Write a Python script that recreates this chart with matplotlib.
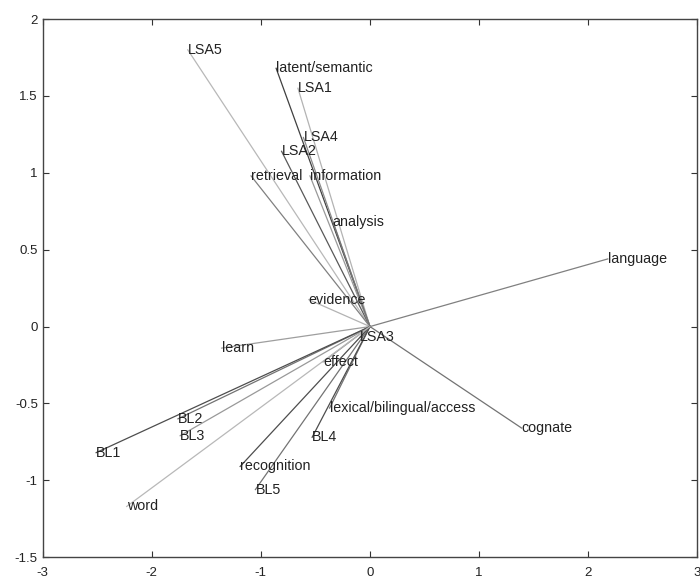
import matplotlib.pyplot as plt
import numpy as np

plt.rcParams['font.family'] = ['Liberation Sans', 'DejaVu Sans']
plt.rcParams['axes.unicode_minus'] = False

labels = ['LSA5', 'latent/semantic', 'LSA1', 'LSA4', 'LSA2', 'retrieval',
          'information', 'analysis', 'evidence', 'language', 'LSA3', 'effect',
          'lexical/bilingual/access', 'cognate', 'learn', 'BL2', 'BL3', 'BL1',
          'recognition', 'BL5', 'BL4', 'word']
xs = [-1.67, -0.86, -0.66, -0.61, -0.81, -1.09,
      -0.55, -0.34, -0.56, 2.18, -0.09, -0.43,
      -0.37, 1.39, -1.36, -1.76, -1.74, -2.51,
      -1.19, -1.05, -0.53, -2.23]
ys = [1.80, 1.68, 1.55, 1.23, 1.14, 0.98,
      0.98, 0.68, 0.175, 0.44, -0.07, -0.23,
      -0.53, -0.66, -0.14, -0.60, -0.71, -0.82,
      -0.91, -1.06, -0.72, -1.17]
# grey level of each line
greys = [0.72, 0.25, 0.7, 0.55, 0.35, 0.5,
         0.6, 0.45, 0.7, 0.5, 0.4, 0.55,
         0.45, 0.45, 0.62, 0.45, 0.6, 0.3,
         0.3, 0.45, 0.3, 0.72]

fig = plt.figure(figsize=(7, 5.78), dpi=100)
ax = fig.add_axes([0.061, 0.036, 0.935, 0.931])

for x, y, g, lab in zip(xs, ys, greys, labels):
    ax.plot([0, x], [0, y], color=str(g), linewidth=0.9)
    ax.text(x, y, lab, ha='left', va='center', fontsize=10.3, color='#222222')

ax.set_xlim(-3, 3)
ax.set_ylim(-1.5, 2)
ax.set_xticks(np.arange(-3, 4, 1))
ax.set_yticks(np.arange(-1.5, 2.5, 0.5))
ax.set_yticklabels(['-1.5', '-1', '-0.5', '0', '0.5', '1', '1.5', '2'])
ax.tick_params(direction='in', top=True, right=True, labelsize=9.5,
               length=4, color='#333333', labelcolor='#222222')
ax.tick_params(axis='x', pad=7)
for sp in ax.spines.values():
    sp.set_color('#444444')
    sp.set_linewidth(1.0)

fig.savefig('out.png', dpi=100)
